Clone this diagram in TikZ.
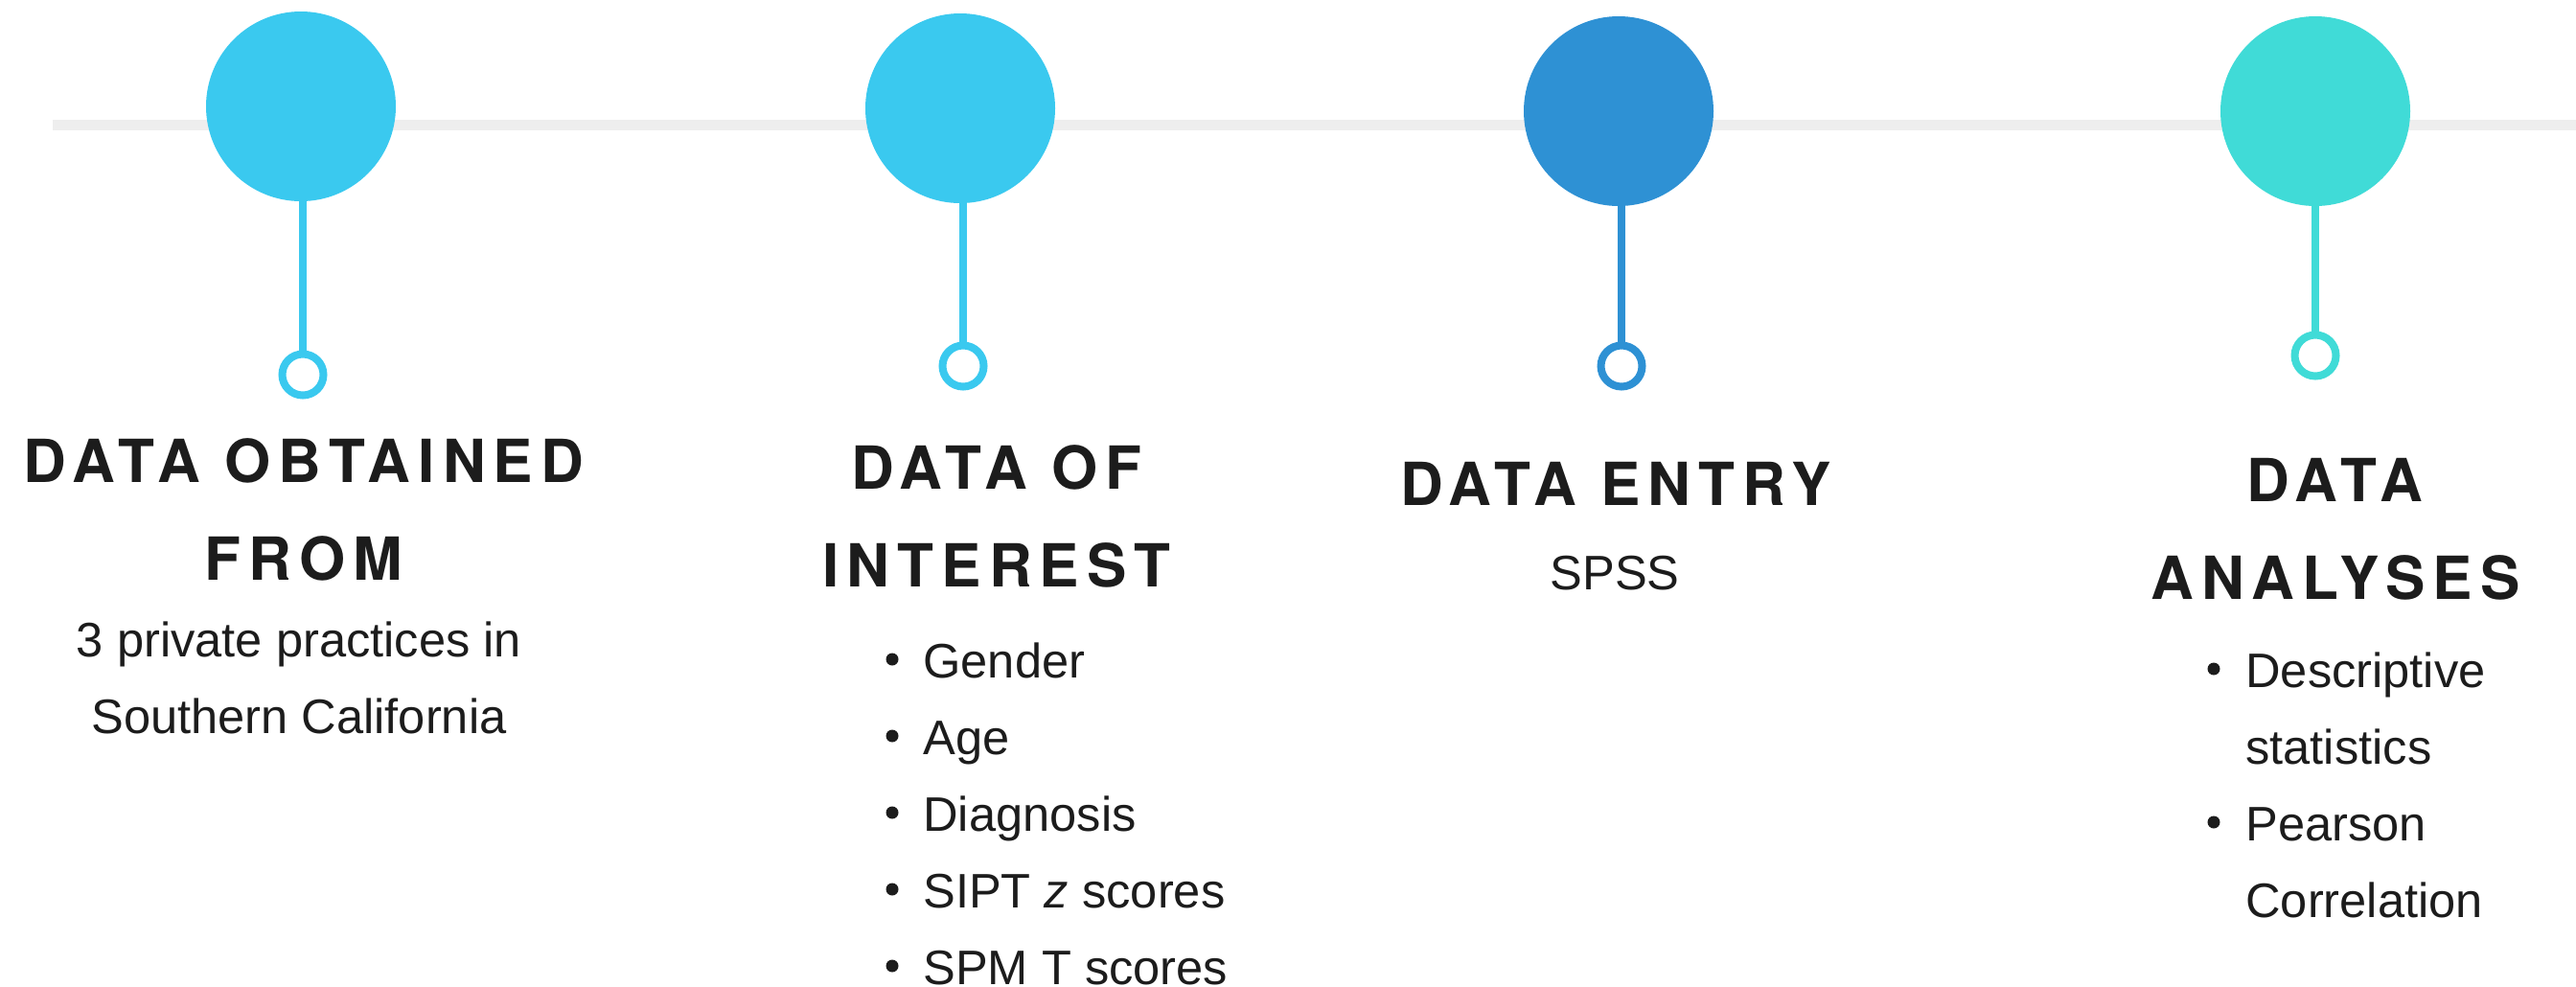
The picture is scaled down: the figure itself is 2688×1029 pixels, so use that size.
\documentclass[tikz,border=0pt]{standalone}
\usepackage{fontspec}
\newfontfamily\headfont[LetterSpace=13]{TeX Gyre Heros}
\newfontfamily\bodyfont{Liberation Sans}

\definecolor{sky}{HTML}{3AC9EF}
\definecolor{deep}{HTML}{2E91D4}
\definecolor{teal}{HTML}{40DBD7}
\definecolor{rail}{HTML}{EEEEEE}
\definecolor{ink}{HTML}{1C1C1C}

\begin{document}
\begin{tikzpicture}[
  x=0.5pt, y=-0.5pt,
  dot/.style={circle, fill=#1, minimum size=99pt, inner sep=0pt},
  ring/.style={circle, draw=#1, line width=4pt, fill=white, minimum size=21.5pt, inner sep=0pt},
  stem/.style={draw=#1, line width=4pt},
  head/.style={anchor=base, text=ink, inner sep=0pt,
    font=\headfont\bfseries\fontsize{31pt}{31pt}\selectfont},
  body/.style={anchor=base, text=ink, inner sep=0pt,
    font=\bodyfont\fontsize{25.3pt}{25.3pt}\selectfont},
  item/.style={body, anchor=base west},
  bullet/.style={circle, fill=ink, minimum size=6.5pt, inner sep=0pt}
]
\useasboundingbox[fill=white] (0,0) rectangle (2688,1029);

% timeline rail
\coordinate (railstart) at (55,130.5);
\coordinate (railend) at (2688,130.5);
\draw[rail, line width=5.5pt] (railstart) -- (railend);

% milestones
\node[dot=sky]  (c1) at (314,111) {};
\node[dot=sky]  (c2) at (1002,113) {};
\node[dot=deep] (c3) at (1689,116) {};
\node[dot=teal] (c4) at (2416,116) {};

\node[ring=sky]  (r1) at (316,391) {};
\node[ring=sky]  (r2) at (1005,382) {};
\node[ring=deep] (r3) at (1692,382) {};
\node[ring=teal] (r4) at (2416,371) {};

\draw[stem=sky]  (c1.south -| r1.north) -- (r1.north);
\draw[stem=sky]  (c2.south -| r2.north) -- (r2.north);
\draw[stem=deep] (c3.south -| r3.north) -- (r3.north);
\draw[stem=teal] (c4.south -| r4.north) -- (r4.north);

% step 1
\node[head] (h1a) at (317,503) {DATA OBTAINED};
\node[head] (h1b) at (317,605) {FROM};
\node[body] (b1a) at (312,685) {3 private practices in};
\node[body] (b1b) at (312,765) {Southern California};

% step 2
\node[head] (h2a) at (1040,510) {DATA OF};
\node[head] (h2b) at (1040,612) {INTEREST};
\node[item] (i21) at (963,707)  {Gender};
\node[item] (i22) at (963,787)  {Age};
\node[item] (i23) at (963,867)  {Diagnosis};
\node[item] (i24) at (963,947)  {SIPT \textit{z} scores};
\node[item] (i25) at (963,1027) {SPM T scores};
\node[bullet] (d21) at (931,688)  {};
\node[bullet] (d22) at (931,768)  {};
\node[bullet] (d23) at (931,848)  {};
\node[bullet] (d24) at (931,928)  {};
\node[bullet] (d25) at (931,1008) {};

% step 3
\node[head] (h3a) at (1686,527) {DATA ENTRY};
\node[body] (b3a) at (1685,615) {SPSS};

% step 4
\node[head] (h4a) at (2436,523) {DATA};
\node[head] (h4b) at (2437,625) {ANALYSES};
\node[item] (i41a) at (2343,717) {Descriptive};
\node[item] (i41b) at (2343,797) {statistics};
\node[item] (i42a) at (2343,877) {Pearson};
\node[item] (i42b) at (2343,957) {Correlation};
\node[bullet] (d41) at (2310,698) {};
\node[bullet] (d42) at (2310,858) {};
\end{tikzpicture}
\end{document}
